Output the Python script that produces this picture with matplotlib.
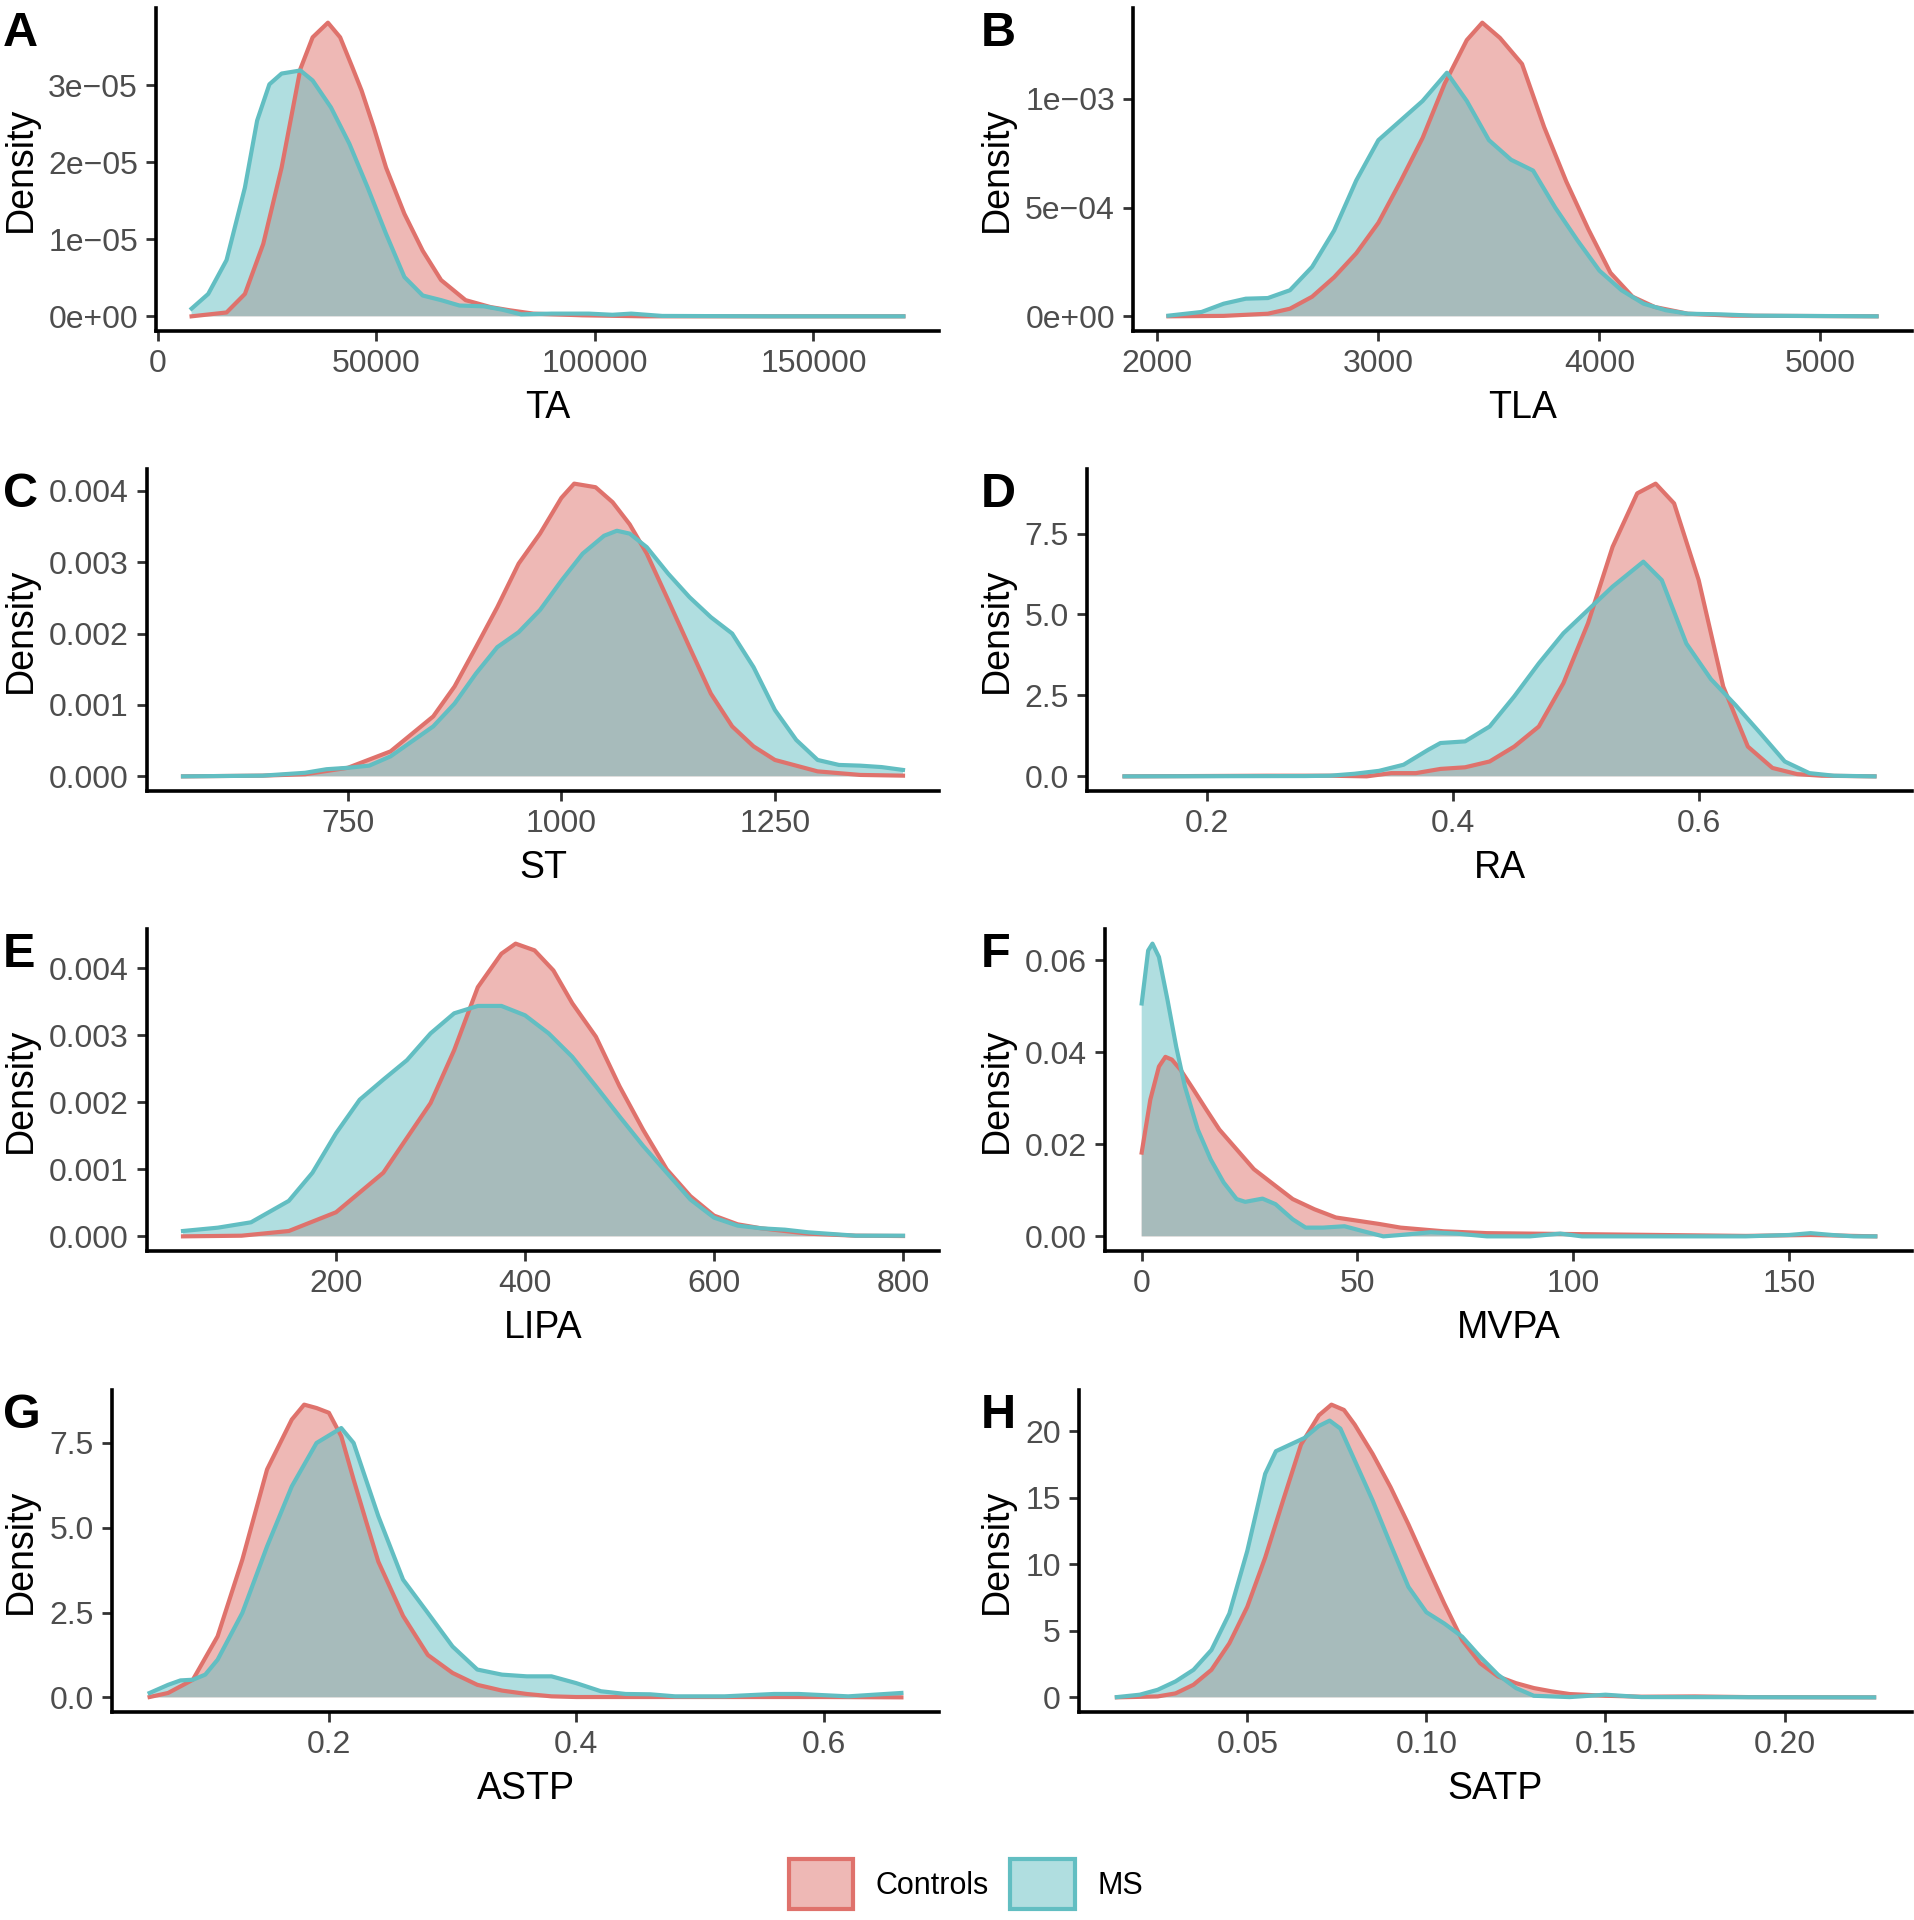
import numpy as np
import matplotlib
matplotlib.use('Agg')
import matplotlib.pyplot as plt
from matplotlib.patches import Patch

groups = ['Controls', 'MS']
ctrl_color = '#DF726C'
ms_color = '#62BEC2'

# --- values ---
# A: TA
ta_ctrl_x = [7700, 15700, 19900, 24100, 28300, 32600, 35400, 38900, 41700, 44500, 46600, 49400,
             52200, 56400, 60600, 64800, 70400, 76100, 80300, 85900, 97100, 111000, 140000, 170600]
ta_ctrl_y = np.array([0.0, 0.5, 2.9, 9.4, 19.3, 32.1, 36.2, 38.1, 36.2, 32.3, 29.3, 24.5,
                      19.3, 13.3, 8.5, 4.7, 2.1, 1.2, 0.8, 0.35, 0.13, 0.0, 0.0, 0.0]) * 1e-6
ta_ms_x = [7700, 11500, 15700, 19900, 22700, 25500, 28300, 32600, 35400, 39600, 43800, 48000, 52200,
           56400, 60600, 64800, 69000, 74600, 78800, 83100, 90100, 98600, 104000, 108300, 115400,
           140000, 170600]
ta_ms_y = np.array([1.0, 2.9, 7.3, 16.7, 25.4, 30.1, 31.5, 31.9, 30.6, 27.1, 22.4, 16.7, 10.7,
                    5.1, 2.7, 2.1, 1.4, 1.3, 0.86, 0.26, 0.35, 0.35, 0.2, 0.35, 0.05,
                    0.0, 0.0]) * 1e-6

# B: TLA
tla_ctrl_x = [2050, 2300, 2500, 2600, 2700, 2800, 2900, 3000, 3100, 3200, 3300, 3400, 3470, 3550,
              3650, 3750, 3850, 3950, 4050, 4150, 4250, 4400, 4600, 5254]
tla_ctrl_y = np.array([0.0, 0.02, 0.12, 0.35, 0.9, 1.8, 2.9, 4.3, 6.2, 8.2, 10.7, 12.7, 13.5, 12.8,
                       11.6, 8.7, 6.2, 4.0, 2.0, 0.9, 0.43, 0.12, 0.03, 0.0]) * 1e-4
tla_ms_x = [2050, 2200, 2300, 2400, 2500, 2600, 2700, 2800, 2900, 3000, 3100, 3200, 3310, 3400,
            3500, 3600, 3700, 3800, 3900, 4000, 4100, 4200, 4300, 4400, 4550, 4700, 5254]
tla_ms_y = np.array([0.03, 0.2, 0.58, 0.81, 0.84, 1.2, 2.27, 3.95, 6.25, 8.1, 9.0, 9.9, 11.2, 9.9,
                     8.1, 7.2, 6.7, 5.0, 3.5, 2.1, 1.2, 0.58, 0.28, 0.12, 0.09, 0.03, 0.0]) * 1e-4

# C: ST
st_ctrl_x = [557, 650, 700, 750, 800, 850, 875, 900, 925, 950, 975, 1000, 1015, 1040, 1060, 1080,
             1100, 1125, 1150, 1175, 1200, 1225, 1250, 1300, 1350, 1400]
st_ctrl_y = np.array([0.0, 0.01, 0.03, 0.12, 0.35, 0.84, 1.26, 1.81, 2.37, 2.98, 3.4, 3.9, 4.1, 4.05,
                      3.84, 3.53, 3.12, 2.47, 1.81, 1.16, 0.7, 0.42, 0.23, 0.07, 0.02, 0.01]) * 1e-3
st_ms_x = [557, 650, 700, 725, 750, 775, 800, 825, 850, 875, 900, 925, 950, 975, 1000, 1025, 1050,
           1065, 1080, 1100, 1125, 1150, 1175, 1200, 1225, 1250, 1275, 1300, 1325, 1350, 1375, 1400]
st_ms_y = np.array([0.0, 0.01, 0.05, 0.1, 0.12, 0.15, 0.28, 0.49, 0.7, 1.02, 1.44, 1.81, 2.02, 2.33,
                    2.74, 3.12, 3.37, 3.44, 3.4, 3.21, 2.84, 2.51, 2.23, 2.0, 1.53, 0.93, 0.51, 0.23,
                    0.16, 0.15, 0.13, 0.09]) * 1e-3

# D: RA
ra_ctrl_x = [0.133, 0.25, 0.30, 0.33, 0.35, 0.37, 0.39, 0.41, 0.43, 0.45, 0.47, 0.49, 0.51, 0.53,
             0.55, 0.565, 0.58, 0.60, 0.62, 0.64, 0.66, 0.68, 0.70, 0.743]
ra_ctrl_y = [0.0, 0.02, 0.02, 0.0, 0.1, 0.1, 0.23, 0.28, 0.46, 0.92, 1.54, 2.88, 4.73, 7.09,
             8.74, 9.04, 8.43, 6.06, 2.77, 0.92, 0.26, 0.07, 0.02, 0.0]
ra_ms_x = [0.133, 0.28, 0.30, 0.32, 0.34, 0.36, 0.38, 0.39, 0.41, 0.43, 0.45, 0.47, 0.49, 0.51,
           0.53, 0.555, 0.57, 0.59, 0.61, 0.63, 0.65, 0.67, 0.69, 0.71, 0.743]
ra_ms_y = [0.0, 0.01, 0.02, 0.08, 0.17, 0.36, 0.82, 1.03, 1.08, 1.54, 2.47, 3.49, 4.42, 5.14,
           5.86, 6.63, 6.06, 4.1, 3.0, 2.2, 1.34, 0.46, 0.1, 0.02, 0.0]

# E: LIPA
lipa_ctrl_x = [38, 100, 150, 200, 250, 300, 325, 350, 375, 390, 410, 430, 450, 475, 500, 525, 550,
               575, 600, 625, 650, 700, 750, 800]
lipa_ctrl_y = np.array([0.0, 0.01, 0.08, 0.36, 0.95, 1.99, 2.78, 3.72, 4.22, 4.37, 4.27, 3.97, 3.48,
                        2.98, 2.24, 1.59, 1.0, 0.6, 0.31, 0.18, 0.12, 0.04, 0.01, 0.005]) * 1e-3
lipa_ms_x = [38, 75, 110, 150, 175, 200, 225, 250, 275, 300, 325, 350, 375, 400, 425, 450, 475, 500,
             525, 550, 575, 600, 625, 650, 675, 700, 750, 800]
lipa_ms_y = np.array([0.08, 0.13, 0.21, 0.53, 0.95, 1.54, 2.04, 2.34, 2.63, 3.03, 3.33, 3.44, 3.44,
                      3.3, 3.03, 2.68, 2.24, 1.79, 1.35, 0.95, 0.55, 0.28, 0.16, 0.12, 0.1, 0.06,
                      0.01, 0.01]) * 1e-3

# F: MVPA
mvpa_ctrl_x = [0, 2, 4, 5.5, 7, 9, 12, 15, 18, 22, 26, 30, 35, 40, 45, 50, 55, 60, 70, 80, 90, 100,
               110, 120, 140, 155, 165, 170]
mvpa_ctrl_y = [0.0182, 0.0297, 0.0369, 0.039, 0.0384, 0.0362, 0.0319, 0.0275, 0.0232, 0.0189,
               0.0146, 0.0117, 0.0081, 0.0059, 0.0041, 0.0034, 0.0027, 0.0019, 0.0011, 0.0007,
               0.0006, 0.0005, 0.0004, 0.0003, 0.0001, 0.0003, 0.0001, 0.0]
mvpa_ms_x = [0, 1.5, 2.5, 4, 6, 8, 10, 13, 16, 19, 22, 24, 28, 31, 35, 38, 42, 47, 51, 56, 60, 67,
             73, 80, 90, 97, 102, 140, 150, 155, 160, 165, 170]
mvpa_ms_y = [0.0506, 0.0621, 0.0636, 0.0607, 0.0513, 0.0412, 0.0326, 0.0232, 0.0167, 0.0117,
             0.0081, 0.0075, 0.0082, 0.007, 0.0037, 0.0019, 0.0019, 0.0022, 0.0012, 0.0, 0.0003,
             0.0009, 0.0006, 0.0, 0.0, 0.0006, 0.0, 0.0, 0.0003, 0.0007, 0.0003, 0.0, 0.0]

# G: ASTP
astp_ctrl_x = [0.055, 0.07, 0.09, 0.11, 0.13, 0.15, 0.17, 0.18, 0.19, 0.20, 0.21, 0.22, 0.23, 0.24,
               0.26, 0.28, 0.30, 0.32, 0.34, 0.36, 0.38, 0.40, 0.50, 0.60, 0.663]
astp_ctrl_y = [0.01, 0.13, 0.52, 1.8, 4.06, 6.72, 8.19, 8.63, 8.53, 8.39, 7.7, 6.42, 5.2, 4.0,
               2.4, 1.25, 0.72, 0.37, 0.2, 0.1, 0.03, 0.01, 0.01, 0.01, 0.0]
astp_ms_x = [0.055, 0.07, 0.08, 0.09, 0.10, 0.11, 0.13, 0.15, 0.17, 0.19, 0.21, 0.22, 0.24, 0.26,
             0.28, 0.30, 0.32, 0.34, 0.36, 0.38, 0.40, 0.42, 0.44, 0.46, 0.48, 0.52, 0.56, 0.58,
             0.62, 0.663]
astp_ms_y = [0.13, 0.37, 0.5, 0.52, 0.67, 1.11, 2.49, 4.45, 6.22, 7.5, 7.94, 7.5, 5.34, 3.47,
             2.49, 1.5, 0.82, 0.67, 0.62, 0.62, 0.42, 0.18, 0.1, 0.09, 0.03, 0.03, 0.1, 0.1,
             0.03, 0.13]

# H: SATP
satp_ctrl_x = [0.0136, 0.025, 0.030, 0.035, 0.040, 0.045, 0.050, 0.055, 0.060, 0.065, 0.070, 0.0735,
               0.077, 0.080, 0.085, 0.090, 0.095, 0.100, 0.105, 0.110, 0.115, 0.120, 0.125, 0.130,
               0.135, 0.140, 0.150, 0.160, 0.175, 0.190, 0.225]
satp_ctrl_y = [0.0, 0.07, 0.3, 0.95, 2.07, 4.06, 6.8, 10.5, 14.8, 19.0, 21.2, 22.0, 21.6, 20.5,
               18.3, 15.8, 13.0, 10.0, 7.05, 4.3, 2.57, 1.57, 1.07, 0.7, 0.45, 0.25, 0.12, 0.05,
               0.07, 0.02, 0.0]
satp_ms_x = [0.0136, 0.020, 0.025, 0.030, 0.035, 0.040, 0.045, 0.050, 0.055, 0.058, 0.062, 0.066,
             0.070, 0.073, 0.076, 0.080, 0.085, 0.090, 0.095, 0.100, 0.105, 0.110, 0.115, 0.120,
             0.125, 0.130, 0.140, 0.150, 0.160, 0.225]
satp_ms_y = [0.02, 0.2, 0.57, 1.2, 2.07, 3.56, 6.3, 11.0, 16.8, 18.5, 19.0, 19.5, 20.4, 20.8,
             20.2, 17.8, 14.8, 11.5, 8.3, 6.4, 5.55, 4.56, 3.06, 1.7, 0.7, 0.12, 0.02, 0.2,
             0.02, 0.0]

# tick positions and labels
ta_xticks, ta_xlabels = [0, 50000, 100000, 150000], ['0', '50000', '100000', '150000']
ta_yticks, ta_ylabels = [0, 1e-5, 2e-5, 3e-5], ['0e+00', '1e\u221205', '2e\u221205', '3e\u221205']
tla_xticks, tla_xlabels = [2000, 3000, 4000, 5000], ['2000', '3000', '4000', '5000']
tla_yticks, tla_ylabels = [0, 5e-4, 1e-3], ['0e+00', '5e\u221204', '1e\u221203']
st_xticks, st_xlabels = [750, 1000, 1250], ['750', '1000', '1250']
st_yticks, st_ylabels = [0, 0.001, 0.002, 0.003, 0.004], ['0.000', '0.001', '0.002', '0.003', '0.004']
ra_xticks, ra_xlabels = [0.2, 0.4, 0.6], ['0.2', '0.4', '0.6']
ra_yticks, ra_ylabels = [0, 2.5, 5.0, 7.5], ['0.0', '2.5', '5.0', '7.5']
lipa_xticks, lipa_xlabels = [200, 400, 600, 800], ['200', '400', '600', '800']
lipa_yticks, lipa_ylabels = st_yticks, st_ylabels
mvpa_xticks, mvpa_xlabels = [0, 50, 100, 150], ['0', '50', '100', '150']
mvpa_yticks, mvpa_ylabels = [0, 0.02, 0.04, 0.06], ['0.00', '0.02', '0.04', '0.06']
astp_xticks, astp_xlabels = [0.2, 0.4, 0.6], ['0.2', '0.4', '0.6']
astp_yticks, astp_ylabels = ra_yticks, ra_ylabels
satp_xticks, satp_xlabels = [0.05, 0.10, 0.15, 0.20], ['0.05', '0.10', '0.15', '0.20']
satp_yticks, satp_ylabels = [0, 5, 10, 15, 20], ['0', '5', '10', '15', '20']

panels = [
    ('A', 'TA', ta_ctrl_x, ta_ctrl_y, ta_ms_x, ta_ms_y, ta_xticks, ta_xlabels, ta_yticks, ta_ylabels),
    ('B', 'TLA', tla_ctrl_x, tla_ctrl_y, tla_ms_x, tla_ms_y, tla_xticks, tla_xlabels, tla_yticks, tla_ylabels),
    ('C', 'ST', st_ctrl_x, st_ctrl_y, st_ms_x, st_ms_y, st_xticks, st_xlabels, st_yticks, st_ylabels),
    ('D', 'RA', ra_ctrl_x, ra_ctrl_y, ra_ms_x, ra_ms_y, ra_xticks, ra_xlabels, ra_yticks, ra_ylabels),
    ('E', 'LIPA', lipa_ctrl_x, lipa_ctrl_y, lipa_ms_x, lipa_ms_y, lipa_xticks, lipa_xlabels, lipa_yticks, lipa_ylabels),
    ('F', 'MVPA', mvpa_ctrl_x, mvpa_ctrl_y, mvpa_ms_x, mvpa_ms_y, mvpa_xticks, mvpa_xlabels, mvpa_yticks, mvpa_ylabels),
    ('G', 'ASTP', astp_ctrl_x, astp_ctrl_y, astp_ms_x, astp_ms_y, astp_xticks, astp_xlabels, astp_yticks, astp_ylabels),
    ('H', 'SATP', satp_ctrl_x, satp_ctrl_y, satp_ms_x, satp_ms_y, satp_xticks, satp_xlabels, satp_yticks, satp_ylabels),
]

# panel boxes in pixels: left, top, right, bottom
W, H = 1914, 1920
boxes = [(156, 8, 939, 331), (1133, 8, 1912, 331),
         (147, 469, 939, 791), (1087, 469, 1912, 791),
         (147, 929, 939, 1251), (1105, 929, 1912, 1251),
         (112, 1390, 939, 1712), (1079, 1390, 1912, 1712)]

plt.rcParams['font.family'] = ['Liberation Sans', 'DejaVu Sans']

fig = plt.figure(figsize=(W / 100, H / 100), dpi=100)

for i, (letter, name, cx, cy, mx, my, xt, xtl, yt, ytl) in enumerate(panels):
    l, t, r, b = boxes[i]
    ax = fig.add_axes([l / W, 1 - b / H, (r - l) / W, (b - t) / H])
    for xs, ys, col in [(cx, cy, ctrl_color), (mx, my, ms_color)]:
        ax.fill_between(xs, ys, 0, facecolor=col, alpha=0.5, linewidth=0)
        ax.plot(xs, ys, color=col, lw=3, solid_joinstyle='round')

    xmin = min(cx[0], mx[0])
    xmax = max(cx[-1], mx[-1])
    xr = xmax - xmin
    ax.set_xlim(xmin - 0.05 * xr, xmax + 0.05 * xr)
    ytop = max(np.max(cy), np.max(my))
    ax.set_ylim(-0.05 * ytop, 1.05 * ytop)

    ax.set_xticks(xt, xtl)
    ax.set_yticks(yt, ytl)
    ax.tick_params(length=7, width=2, color='#333333', labelsize=23,
                   labelcolor='#4D4D4D', pad=6, direction='out')
    for s in ['top', 'right']:
        ax.spines[s].set_visible(False)
    for s in ['left', 'bottom']:
        ax.spines[s].set_linewidth(2.6)
        ax.spines[s].set_color('black')

    ax.set_xlabel(name, fontsize=27)
    ax.xaxis.set_label_coords((l + r) / 2 / W, 1 - (b + 59) / H, transform=fig.transFigure)
    ax.set_ylabel('Density', fontsize=27)
    lab_x = 21 if i % 2 == 0 else 997
    ax.yaxis.set_label_coords(lab_x / W, 1 - (t + b) / 2 / H, transform=fig.transFigure)
    ax.yaxis.label.set_va('center')

    let_x = 3 if i % 2 == 0 else 981
    fig.text(let_x / W, 1 - (t + 3) / H, letter, fontsize=35, fontweight='bold',
             ha='left', va='top')

handles = [Patch(facecolor=matplotlib.colors.to_rgba(ctrl_color, 0.5), edgecolor=ctrl_color, linewidth=3),
           Patch(facecolor=matplotlib.colors.to_rgba(ms_color, 0.5), edgecolor=ms_color, linewidth=3)]
fig.legend(handles, groups, loc='center', bbox_to_anchor=(966 / W, 1 - 1884 / H), ncol=2,
           frameon=False, fontsize=22, handlelength=2.1, handleheight=2.1,
           handletextpad=0.75, columnspacing=0.7, borderaxespad=0)

fig.savefig('out.png', dpi=100, facecolor='white')
